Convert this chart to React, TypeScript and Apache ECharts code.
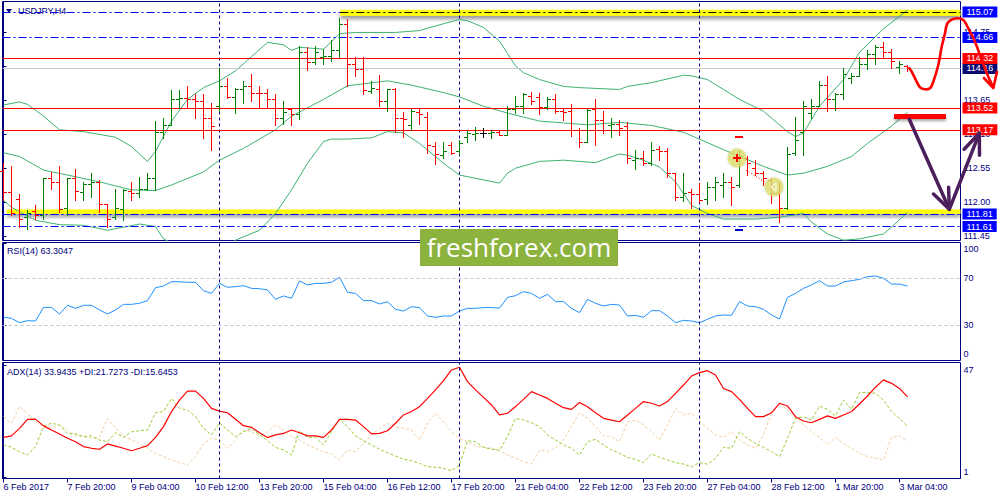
import { useEffect, useRef } from 'react';
import * as echarts from 'echarts';

const FONT = '"Liberation Sans", Arial, sans-serif';
const NAVY = '#000080';

// ---- OHLC (H4 bars, index 0 = 6 Feb 2017 12:00) ----
const OPEN = [
  112.50, 112.16, 112.06, 111.76, 111.86, 111.79, 112.39, 112.33, 111.91, 112.39,
  112.17, 112.30, 112.33, 111.98, 111.76, 111.90, 112.19, 112.15, 112.22, 112.40,
  113.14, 113.25, 113.66, 113.69, 113.66, 113.64, 113.36, 113.55, 113.87, 113.70,
  113.83, 113.87, 113.77, 113.76, 113.67, 113.36, 113.50, 113.42, 114.43, 114.27,
  114.35, 114.36, 114.45, 114.88, 114.23, 114.15, 113.79, 113.83, 113.63, 113.83,
  113.36, 113.25, 113.45, 113.38, 112.91, 112.77, 112.93, 112.82, 113.06, 113.11,
  113.12, 113.12, 113.13, 113.09, 113.50, 113.56, 113.71, 113.70, 113.54, 113.67,
  113.48, 113.47, 113.16, 112.98, 113.50, 113.32, 113.25, 113.27, 113.23, 112.69,
  112.71, 112.63, 112.86, 112.82, 112.47, 112.08, 112.17, 112.14, 112.05, 112.25,
  112.28, 112.33, 112.28, 112.71, 112.55, 112.47, 112.36, 112.15, 111.91, 112.79,
  113.14, 113.44, 113.56, 113.90, 113.66, 113.74, 114.01, 114.04, 114.23, 114.39,
  114.50, 114.42, 114.18, 114.20,
];
const HIGH = [
  112.63, 112.58, 112.14, 111.87, 111.95, 112.40, 112.49, 112.58, 112.39, 112.53,
  112.33, 112.48, 112.36, 111.98, 112.22, 112.22, 112.32, 112.41, 112.47, 113.31,
  113.36, 113.81, 113.81, 113.87, 113.74, 113.74, 113.61, 114.17, 114.00, 113.85,
  113.96, 114.07, 113.87, 113.82, 113.75, 113.63, 113.52, 114.52, 114.50, 114.52,
  114.47, 114.62, 114.97, 114.95, 114.35, 114.34, 113.96, 114.05, 113.83, 113.85,
  113.45, 113.50, 113.50, 113.45, 112.98, 112.97, 112.97, 113.01, 113.17, 113.22,
  113.20, 113.17, 113.17, 113.56, 113.71, 113.76, 113.78, 113.77, 113.70, 113.74,
  113.52, 113.59, 113.20, 113.50, 113.67, 113.47, 113.36, 113.33, 113.29, 112.85,
  112.82, 112.97, 112.91, 112.87, 112.48, 112.47, 112.21, 112.31, 112.33, 112.41,
  112.48, 112.41, 112.84, 112.74, 112.69, 112.51, 112.39, 112.33, 112.90, 113.38,
  113.63, 113.67, 113.96, 114.04, 113.76, 114.16, 114.08, 114.34, 114.45, 114.53,
  114.59, 114.48, 114.28, 114.21,
];
const LOW = [
  112.03, 111.79, 111.60, 111.57, 111.73, 111.73, 112.22, 111.84, 111.79, 112.03,
  112.03, 112.09, 111.84, 111.60, 111.73, 111.71, 112.03, 112.09, 112.20, 112.20,
  113.04, 113.25, 113.52, 113.52, 113.36, 113.04, 112.85, 113.47, 113.69, 113.44,
  113.61, 113.63, 113.54, 113.52, 113.25, 113.27, 113.24, 113.35, 114.14, 114.23,
  114.23, 114.28, 114.35, 113.87, 114.04, 113.74, 113.77, 113.55, 113.47, 113.13,
  113.06, 113.17, 113.27, 112.80, 112.62, 112.71, 112.78, 112.78, 112.98, 113.01,
  113.06, 113.04, 113.09, 113.09, 113.44, 113.44, 113.59, 113.42, 113.50, 113.44,
  113.32, 113.07, 112.90, 112.97, 112.93, 113.12, 113.06, 113.09, 112.64, 112.53,
  112.60, 112.60, 112.69, 112.41, 112.04, 112.02, 111.91, 112.01, 111.97, 112.04,
  112.09, 111.95, 112.25, 112.44, 112.44, 112.28, 111.99, 111.68, 111.90, 112.76,
  112.76, 113.36, 113.55, 113.47, 113.49, 113.67, 113.93, 114.03, 114.15, 114.23,
  114.34, 114.16, 114.08, 114.12,
];
const CLOSE = [
  112.16, 111.82, 111.73, 111.82, 111.79, 112.39, 112.33, 111.90, 112.39, 112.19,
  112.30, 112.33, 111.98, 111.73, 111.91, 112.20, 112.15, 112.22, 112.40, 113.14,
  113.25, 113.66, 113.69, 113.66, 113.64, 113.36, 113.23, 113.87, 113.70, 113.83,
  113.87, 113.77, 113.76, 113.67, 113.36, 113.45, 113.42, 114.43, 114.27, 114.43,
  114.36, 114.45, 114.88, 114.23, 114.15, 113.81, 113.85, 113.63, 113.82, 113.36,
  113.35, 113.47, 113.42, 112.93, 112.78, 112.82, 112.79, 112.96, 113.12, 113.12,
  113.12, 113.14, 113.09, 113.50, 113.56, 113.74, 113.63, 113.54, 113.67, 113.47,
  113.46, 113.16, 112.98, 113.49, 113.32, 113.16, 113.27, 113.20, 112.71, 112.71,
  112.63, 112.85, 112.83, 112.48, 112.08, 112.15, 112.13, 112.03, 112.25, 112.33,
  112.33, 112.25, 112.74, 112.63, 112.47, 112.39, 112.15, 111.91, 112.78, 113.01,
  113.56, 113.55, 113.90, 113.66, 113.74, 114.07, 114.03, 114.23, 114.39, 114.50,
  114.42, 114.28, 114.23, 114.16,
];

// ---- Bollinger Bands (bar index, price) ----
const BB_UPPER = [
  [0, 113.57], [2, 113.62], [3, 113.58], [5, 113.39], [7, 113.17], [10, 113.14], [14, 113.05],
  [16, 112.90], [18, 112.66], [19, 112.82], [21, 113.31], [23, 113.66], [25, 113.85], [27, 113.96],
  [29, 114.12], [31, 114.35], [33, 114.58], [35, 114.54], [36, 114.45], [37, 114.50], [40, 114.47],
  [41, 114.59], [42, 114.72], [44, 114.74], [49, 114.74], [52, 114.77], [55, 114.88], [57, 114.95],
  [58, 114.93], [60, 114.82], [62, 114.60], [63, 114.40], [64, 114.20], [65, 114.09], [67, 113.98],
  [70, 113.87], [72, 113.85], [77, 113.82], [78, 113.87], [81, 113.93], [82, 113.96], [85, 114.05],
  [86, 114.04], [88, 113.98], [90, 113.82], [92, 113.66], [95, 113.47], [98, 113.14], [99, 113.06],
  [100, 113.12], [102, 113.55], [105, 113.98], [107, 114.42], [110, 114.80], [113, 115.10],
];
const BB_MIDDLE = [
  [0, 112.80], [2, 112.74], [5, 112.52], [8, 112.44], [12, 112.33], [16, 112.20], [19, 112.19],
  [21, 112.28], [25, 112.49], [27, 112.68], [30, 112.87], [34, 113.17], [36, 113.39], [40, 113.66],
  [43, 113.88], [48, 113.96], [51, 113.89], [55, 113.77], [57, 113.70], [60, 113.55], [63, 113.44],
  [67, 113.31], [70, 113.28], [73, 113.25], [77, 113.29], [81, 113.24], [85, 113.13], [90, 112.85],
  [95, 112.58], [98, 112.44], [100, 112.47], [103, 112.58], [106, 112.74], [108, 112.95],
  [111, 113.23], [113, 113.45],
];
const BB_LOWER = [
  [0, 112.03], [1, 111.92], [4, 111.71], [7, 111.64], [10, 111.63], [13, 111.55], [15, 111.60],
  [17, 111.65], [19, 111.61], [20, 111.41], [23, 111.22], [26, 111.16], [29, 111.39], [32, 111.55],
  [34, 111.82], [36, 112.20], [38, 112.63], [40, 112.98], [41, 113.02], [43, 113.02], [46, 113.04],
  [48, 113.14], [50, 113.12], [52, 112.95], [55, 112.63], [57, 112.44], [62, 112.31], [63, 112.47],
  [64, 112.55], [67, 112.66], [70, 112.68], [74, 112.64], [77, 112.78], [78, 112.76], [80, 112.68],
  [82, 112.57], [84, 112.33], [86, 111.95], [88, 111.82], [90, 111.73], [94, 111.73], [97, 111.76],
  [100, 111.82], [101, 111.68], [103, 111.49], [105, 111.39], [107, 111.41], [110, 111.49],
  [111, 111.60], [113, 111.84],
];

// ---- RSI(14) ----
const RSI = [
  36.6, 35.7, 32.0, 33.7, 33.4, 45.1, 45.1, 39.4, 46.9, 44.3,
  46.9, 46.9, 42.9, 39.4, 42.9, 47.7, 47.7, 48.6, 50.9, 62.0,
  63.4, 67.1, 67.1, 66.6, 66.6, 59.4, 57.1, 65.7, 62.3, 62.9,
  63.7, 61.4, 61.1, 60.0, 52.0, 54.9, 52.9, 67.7, 64.3, 65.7,
  65.7, 66.6, 70.9, 58.0, 57.1, 50.9, 50.9, 48.0, 50.0, 43.4,
  42.0, 45.7, 44.9, 37.7, 36.6, 37.7, 37.7, 42.0, 44.3, 44.3,
  44.9, 44.9, 44.5, 53.7, 55.1, 58.6, 57.1, 52.9, 56.3, 50.0,
  50.0, 44.3, 40.6, 52.0, 48.6, 46.3, 47.7, 47.1, 37.7, 38.3,
  36.6, 42.3, 42.3, 37.7, 32.0, 34.0, 33.4, 32.0, 34.9, 37.7,
  38.6, 38.3, 50.0, 46.3, 45.7, 43.4, 38.6, 35.1, 53.7, 57.1,
  61.4, 64.3, 68.0, 63.4, 63.4, 66.9, 68.0, 69.1, 71.4, 72.0,
  70.0, 65.1, 65.1, 63.3,
];

// ---- ADX(14) ----
const ADX = [
  17.3, 17.9, 21.0, 24.7, 24.8, 22.0, 20.3, 18.7, 16.9, 15.5,
  13.5, 12.8, 12.4, 14.6, 13.7, 12.8, 11.8, 12.8, 13.9, 17.3,
  21.7, 27.9, 32.6, 36.3, 36.3, 33.3, 29.2, 28.1, 27.4, 24.7,
  22.1, 21.4, 19.2, 17.2, 18.3, 18.9, 20.3, 19.2, 17.9, 17.9,
  17.3, 20.3, 24.7, 24.7, 24.4, 21.7, 18.7, 18.9, 20.0, 23.1,
  26.5, 27.9, 29.9, 33.3, 36.8, 40.6, 45.0, 46.1, 40.2, 36.8,
  33.7, 30.6, 26.5, 27.2, 29.9, 32.9, 36.1, 34.7, 33.3, 31.3,
  29.5, 28.8, 31.6, 29.9, 27.4, 25.1, 24.4, 23.7, 26.5, 29.2,
  32.0, 31.3, 30.2, 32.0, 35.4, 38.8, 42.5, 43.9, 44.7, 42.9,
  37.4, 36.1, 32.9, 29.2, 25.8, 25.8, 27.4, 31.3, 30.2, 25.8,
  24.0, 23.3, 24.7, 26.1, 25.1, 26.5, 27.9, 31.0, 34.3, 37.9,
  40.9, 39.5, 37.4, 33.9,
];
const PLUS_DI = [
  14.2, 13.2, 11.4, 10.0, 13.5, 21.7, 23.1, 22.4, 18.9, 18.7,
  17.6, 17.9, 16.2, 15.5, 19.2, 17.3, 19.6, 20.0, 20.3, 27.4,
  27.9, 33.3, 29.2, 28.5, 25.8, 21.0, 18.3, 23.3, 20.3, 17.6,
  19.6, 21.0, 18.3, 15.9, 13.2, 12.1, 10.0, 20.0, 17.3, 17.3,
  14.2, 19.6, 24.7, 21.7, 17.9, 15.9, 14.2, 12.4, 11.0, 9.6,
  8.3, 7.7, 6.6, 5.2, 5.0, 4.6, 3.6, 5.9, 15.9, 15.5,
  13.2, 12.4, 12.0, 17.6, 25.1, 24.4, 23.3, 21.7, 18.3, 16.2,
  14.2, 12.8, 10.0, 15.5, 16.5, 14.2, 12.1, 10.7, 9.1, 8.3,
  6.9, 10.5, 9.1, 8.0, 6.9, 6.3, 5.2, 6.9, 6.3, 8.7,
  13.2, 12.8, 19.6, 16.9, 14.8, 13.2, 11.4, 9.4, 16.9, 25.1,
  25.8, 24.4, 30.2, 28.8, 26.1, 32.6, 28.8, 35.7, 35.7, 35.4,
  32.6, 27.9, 25.1, 21.7,
];
const MINUS_DI = [
  25.8, 23.1, 29.9, 27.2, 23.7, 21.7, 21.0, 22.4, 20.3, 17.9,
  17.6, 16.9, 17.3, 25.1, 21.0, 17.9, 16.2, 14.8, 12.8, 10.7,
  9.4, 8.0, 6.9, 5.9, 9.4, 14.8, 16.9, 16.2, 12.8, 16.2,
  20.3, 19.6, 17.9, 19.6, 22.4, 20.3, 17.6, 16.2, 14.2, 12.8,
  11.4, 10.5, 8.0, 12.1, 11.4, 14.8, 18.3, 21.0, 23.1, 21.7,
  21.0, 20.3, 16.2, 23.1, 27.2, 23.7, 19.6, 16.9, 15.5, 13.7,
  13.2, 12.8, 11.8, 10.0, 8.7, 7.3, 6.3, 12.1, 11.4, 12.8,
  16.2, 21.7, 27.4, 25.1, 21.7, 17.9, 17.6, 15.5, 23.7, 24.4,
  22.4, 19.6, 16.2, 22.4, 29.2, 26.5, 27.2, 23.7, 21.0, 18.3,
  17.3, 19.6, 16.2, 14.2, 12.8, 18.3, 27.2, 31.3, 28.5, 25.1,
  22.4, 19.6, 17.3, 14.2, 17.3, 14.8, 12.8, 10.7, 9.4, 8.7,
  8.0, 17.3, 17.9, 15.6,
];

// ---- axis ticks / labels ----
const DATE_TICKS = [0, 8, 16, 24, 32, 40, 48, 56, 64, 72, 80, 88, 96, 104, 112];
const DATE_LABELS = [
  '6 Feb 2017', '7 Feb 20:00', '9 Feb 04:00', '10 Feb 12:00', '13 Feb 20:00', '15 Feb 04:00',
  '16 Feb 12:00', '17 Feb 20:00', '21 Feb 04:00', '22 Feb 12:00', '23 Feb 20:00', '27 Feb 04:00',
  '28 Feb 12:00', '1 Mar 20:00', '3 Mar 04:00',
];
const PRICE_TICKS = [111.45, 112.0, 112.55, 113.1, 113.65, 114.2, 114.75];
const RSI_TICKS = [0, 30, 70, 100];
const RSI_LEVELS = [70, 30];
const ADX_TICKS = [1, 47];
const WEEK_SEPARATORS = [27, 57, 87];

// ---- horizontal levels ----
const TOP_LEVEL = 115.07;
const BLUE_LEVELS = [114.66, 111.81, 111.61];
const RED_LEVELS = [114.32, 113.52, 113.17];
const BID = 114.16;
const TOP_BAND = [115.105, 115.01];
const BOTTOM_BAND = [111.885, 111.815];
const TOP_BAND_START = 42.1;
const BOTTOM_BAND_START = 0.4;

const X_MIN = -0.125;
const X_MAX = 119.625;
const PRICE_MIN = 111.3845;
const PRICE_MAX = 115.239;

const DASHDOT = [8, 3, 2, 3];

function boxLabel(text: string, bg: string) {
  return {
    show: true,
    position: 'end',
    formatter: text,
    color: '#fff',
    backgroundColor: bg,
    padding: [1, 4, 0, 4],
    fontSize: 9,
    lineHeight: 10,
    fontFamily: FONT,
    distance: 2,
  };
}

function renderBar(params: any, api: any) {
  const i = api.value(0);
  const o = api.value(1);
  const h = api.value(2);
  const l = api.value(3);
  const c = api.value(4);
  const pO = api.coord([i, o]);
  const pH = api.coord([i, h]);
  const pL = api.coord([i, l]);
  const pC = api.coord([i, c]);
  const x = Math.floor(pO[0]) + 0.5;
  const color = c > o ? '#008000' : c < o ? '#ff0000' : '#000000';
  const yO = Math.round(pO[1]) + 0.5;
  const yC = Math.round(pC[1]) + 0.5;
  const st = { stroke: color, lineWidth: 1 };
  return {
    type: 'group',
    children: [
      { type: 'line', shape: { x1: x, y1: Math.round(pH[1]), x2: x, y2: Math.round(pL[1]) + 1 }, style: st },
      { type: 'line', shape: { x1: x - 3.5, y1: yO, x2: x, y2: yO }, style: st },
      { type: 'line', shape: { x1: x, y1: yC, x2: x + 3.5, y2: yC }, style: st },
    ],
  };
}

function sepLines() {
  return WEEK_SEPARATORS.map((v) => ({
    xAxis: v,
    lineStyle: { color: NAVY, type: [3, 3], width: 1 },
    label: { show: false },
  }));
}

function carrier(name: string, z: number, extra: any) {
  return { name, type: 'line', xAxisIndex: 0, yAxisIndex: 0, data: [], z, silent: true, ...extra };
}

function buildOption(): any {
  const ohlc = OPEN.map((o, i) => [i, o, HIGH[i], LOW[i], CLOSE[i]]);
  const idx = (arr: number[]) => arr.map((v, i) => [i, v]);

  const blueData: any[] = [
    [
      { coord: [X_MIN, TOP_LEVEL], lineStyle: { color: '#0000ff', type: DASHDOT, width: 1 }, label: { show: false } },
      { coord: [TOP_BAND_START, TOP_LEVEL] },
    ],
    [
      { coord: [TOP_BAND_START, TOP_LEVEL], lineStyle: { color: '#000000', type: DASHDOT, width: 1 }, label: boxLabel(TOP_LEVEL.toFixed(2), '#0000ff') },
      { coord: [X_MAX, TOP_LEVEL] },
    ],
    ...BLUE_LEVELS.map((v) => ({
      yAxis: v,
      lineStyle: { color: '#0000ff', type: DASHDOT, width: 1 },
      label: boxLabel(v.toFixed(2), '#0000ff'),
    })),
  ];
  const redData: any[] = RED_LEVELS.map((v) => ({
    yAxis: v,
    lineStyle: { color: '#ff0000', type: 'solid', width: 1 },
    label: boxLabel(v.toFixed(2), '#ff0000'),
  }));
  const bidData: any[] = [
    {
      yAxis: BID,
      lineStyle: { color: '#c8c8c8', type: 'solid', width: 1 },
      label: boxLabel(BID.toFixed(2), '#0a0a70'),
    },
    ...sepLines(),
  ];

  const bandStyle = {
    color: '#ffff00',
    shadowBlur: 4,
    shadowColor: 'rgba(0,0,0,0.45)',
    shadowOffsetY: 3,
  };

  const axisText = { color: NAVY, fontSize: 9, fontFamily: FONT };

  const purple = { stroke: '#4b1f5c', lineWidth: 3.5, lineCap: 'round', lineJoin: 'round', fill: 'none' };
  const redPen = { stroke: '#ff0000', lineWidth: 2.6, lineCap: 'round', lineJoin: 'round', fill: 'none' };
  const ml = (data: any[]) => ({ silent: true, symbol: ['none', 'none'], precision: 2, data });

  return {
    animation: false,
    backgroundColor: '#ffffff',
    textStyle: { fontFamily: FONT },
    grid: [
      { left: 2.5, top: 1.5, width: 958, height: 239, show: true, borderColor: NAVY, borderWidth: 1, backgroundColor: '#fff' },
      { left: 2.5, top: 242.5, width: 958, height: 118, show: true, borderColor: NAVY, borderWidth: 1, backgroundColor: '#fff' },
      { left: 2.5, top: 362.5, width: 958, height: 116, show: true, borderColor: NAVY, borderWidth: 1, backgroundColor: '#fff' },
    ],
    xAxis: [0, 1, 2].map((g) => ({
      type: 'value',
      gridIndex: g,
      min: X_MIN,
      max: X_MAX,
      show: g === 2,
      splitLine: { show: false },
      axisLine: { show: g === 2, lineStyle: { color: NAVY, width: 1 } },
      axisTick: { show: g === 2, length: 4, customValues: DATE_TICKS, lineStyle: { color: NAVY } },
      axisLabel: {
        show: g === 2,
        customValues: DATE_TICKS,
        formatter: (v: number) => DATE_LABELS[DATE_TICKS.indexOf(Math.round(v))] ?? '',
        align: 'left',
        margin: 4,
        ...axisText,
      },
    })),
    yAxis: [
      {
        type: 'value',
        gridIndex: 0,
        position: 'right',
        min: PRICE_MIN,
        max: PRICE_MAX,
        splitLine: { show: false },
        axisLine: { show: true, lineStyle: { color: NAVY } },
        axisTick: { show: true, length: 3, customValues: PRICE_TICKS, lineStyle: { color: NAVY } },
        axisLabel: { customValues: PRICE_TICKS, formatter: (v: number) => v.toFixed(2), margin: 3, ...axisText },
      },
      {
        type: 'value',
        gridIndex: 1,
        position: 'right',
        min: -0.43,
        max: 100.71,
        splitLine: { show: false },
        axisLine: { show: true, lineStyle: { color: NAVY } },
        axisTick: { show: true, length: 3, customValues: RSI_TICKS, lineStyle: { color: NAVY } },
        axisLabel: {
          customValues: RSI_TICKS,
          formatter: (v: number) => (v >= 100 ? '\n100' : v <= 0 ? '0\n' : String(v)),
          lineHeight: 12,
          margin: 3,
          ...axisText,
        },
      },
      {
        type: 'value',
        gridIndex: 2,
        position: 'right',
        min: 0.38,
        max: 48.06,
        splitLine: { show: false },
        axisLine: { show: true, lineStyle: { color: NAVY } },
        axisTick: { show: true, length: 3, customValues: ADX_TICKS, lineStyle: { color: NAVY } },
        axisLabel: {
          customValues: ADX_TICKS,
          formatter: (v: number) => (v >= 47 ? '\n47' : '1\n'),
          lineHeight: 10,
          margin: 3,
          ...axisText,
        },
      },
    ],
    series: [
      carrier('bands', 1, {
        markArea: {
          silent: true,
          data: [
            [
              { xAxis: TOP_BAND_START, yAxis: TOP_BAND[0], itemStyle: bandStyle },
              { xAxis: X_MAX, yAxis: TOP_BAND[1] },
            ],
            [
              { xAxis: BOTTOM_BAND_START, yAxis: BOTTOM_BAND[0], itemStyle: bandStyle },
              { xAxis: X_MAX, yAxis: BOTTOM_BAND[1] },
            ],
          ],
        },
      }),
      carrier('blueLevels', 2, { markLine: ml(blueData) }),
      carrier('bid', 2, { markLine: ml(bidData) }),
      carrier('redLevels', 2, { markLine: ml(redData) }),
      ...[BB_UPPER, BB_MIDDLE, BB_LOWER].map((d) => ({
        type: 'line',
        xAxisIndex: 0,
        yAxisIndex: 0,
        data: d,
        showSymbol: false,
        symbol: 'none',
        silent: true,
        z: 3,
        lineStyle: { color: '#3cb371', width: 1 },
      })),
      {
        name: 'USDJPY',
        type: 'custom',
        xAxisIndex: 0,
        yAxisIndex: 0,
        data: ohlc,
        encode: { x: 0, y: [1, 2, 3, 4] },
        renderItem: renderBar,
        silent: true,
        z: 5,
      },
      {
        name: 'RSI',
        type: 'line',
        xAxisIndex: 1,
        yAxisIndex: 1,
        data: idx(RSI),
        showSymbol: false,
        symbol: 'none',
        silent: true,
        z: 3,
        lineStyle: { color: '#1e90ff', width: 1 },
        markLine: {
          silent: true,
          symbol: ['none', 'none'],
          data: [
            ...RSI_LEVELS.map((v) => ({ yAxis: v, lineStyle: { color: '#c0c0c0', type: [3, 3], width: 1 }, label: { show: false } })),
            ...sepLines(),
          ],
        },
      },
      {
        name: '-DI',
        type: 'line',
        xAxisIndex: 2,
        yAxisIndex: 2,
        data: idx(MINUS_DI),
        showSymbol: false,
        symbol: 'none',
        silent: true,
        z: 3,
        lineStyle: { color: '#f2cfa2', width: 1, type: [3, 2] },
        markLine: { silent: true, symbol: ['none', 'none'], data: sepLines() },
      },
      {
        name: '+DI',
        type: 'line',
        xAxisIndex: 2,
        yAxisIndex: 2,
        data: idx(PLUS_DI),
        showSymbol: false,
        symbol: 'none',
        silent: true,
        z: 3,
        lineStyle: { color: '#9acd32', width: 1, type: [3, 2] },
      },
      {
        name: 'ADX',
        type: 'line',
        xAxisIndex: 2,
        yAxisIndex: 2,
        data: idx(ADX),
        showSymbol: false,
        symbol: 'none',
        silent: true,
        z: 4,
        lineStyle: { color: '#ff0000', width: 1.2 },
      },
    ],
    graphic: [
      { type: 'polygon', z: 100, shape: { points: [[6, 9], [12, 9], [9, 13]] }, style: { fill: NAVY } },
      { type: 'text', z: 100, x: 18, y: 11, style: { text: 'USDJPY,H4', fill: NAVY, fontSize: 9, fontFamily: FONT, verticalAlign: 'middle' } },
      { type: 'text', z: 100, x: 7, y: 251, style: { text: 'RSI(14) 63.3047', fill: NAVY, fontSize: 9, fontFamily: FONT, verticalAlign: 'middle' } },
      { type: 'text', z: 100, x: 7, y: 372, style: { text: 'ADX(14) 33.9435 +DI:21.7273 -DI:15.6453', fill: NAVY, fontSize: 9, fontFamily: FONT, verticalAlign: 'middle' } },
      // watermark
      { type: 'rect', z: 100, shape: { x: 420, y: 229, width: 198, height: 37 }, style: { fill: '#8db33f' } },
      { type: 'text', z: 101, x: 519, y: 247, style: { text: 'freshforex.com', fill: '#ffffff', fontSize: 26, fontFamily: '"Open Sans", "Noto Sans", sans-serif', align: 'center', verticalAlign: 'middle' } },
      // trade markers
      { type: 'circle', z: 90, shape: { cx: 737, cy: 158, r: 9.5 }, style: { fill: 'rgba(222,222,110,0.8)', shadowBlur: 2, shadowColor: 'rgba(0,0,0,0.2)' } },
      { type: 'circle', z: 90, shape: { cx: 774, cy: 187, r: 9.5 }, style: { fill: 'rgba(222,222,110,0.8)', shadowBlur: 2, shadowColor: 'rgba(0,0,0,0.2)' } },
      { type: 'line', z: 91, shape: { x1: 733, y1: 158, x2: 741, y2: 158 }, style: { stroke: '#ff0000', lineWidth: 2 } },
      { type: 'line', z: 91, shape: { x1: 737, y1: 154, x2: 737, y2: 162 }, style: { stroke: '#ff0000', lineWidth: 2 } },
      { type: 'polygon', z: 91, shape: { points: [[771, 187], [776, 183], [776, 191]] }, style: { fill: 'none', stroke: '#ffffff', lineWidth: 1 } },
      { type: 'line', z: 91, shape: { x1: 746, y1: 170, x2: 766, y2: 183 }, style: { stroke: '#ff0000', lineWidth: 1, lineDash: [1, 2] } },
      { type: 'line', z: 91, shape: { x1: 735, y1: 137, x2: 743, y2: 137 }, style: { stroke: '#ff0000', lineWidth: 2 } },
      { type: 'line', z: 91, shape: { x1: 735, y1: 230, x2: 743, y2: 230 }, style: { stroke: '#0000cc', lineWidth: 2 } },
      // forecast drawings
      {
        type: 'polyline', z: 110,
        shape: {
          smooth: 0.3,
          points: [[909.3, 68.3], [911.7, 71.7], [915, 78.3], [920, 87.3], [925, 89.3], [930, 88.3], [933.3, 81.7],
            [938.3, 65], [941.7, 46.7], [945, 33.3], [946.7, 25], [950, 20.7], [956.7, 18.3], [963.3, 20],
            [968.3, 28.3], [975, 41.7], [981.7, 60], [988.3, 76.7], [993.3, 87.3]],
        },
        style: redPen,
      },
      { type: 'polyline', z: 110, shape: { points: [[984, 78], [993.3, 88], [997, 72]] }, style: redPen },
      { type: 'rect', z: 110, shape: { x: 894, y: 114, width: 52, height: 5 }, style: { fill: '#ff0000', shadowBlur: 3, shadowColor: 'rgba(0,0,0,0.35)', shadowOffsetY: 2 } },
      { type: 'line', z: 111, shape: { x1: 909.3, y1: 119.3, x2: 949.3, y2: 209.3 }, style: purple },
      { type: 'polyline', z: 111, shape: { points: [[933.5, 194], [949.3, 209.3], [948.6, 187.3]] }, style: purple },
      { type: 'line', z: 111, shape: { x1: 949.3, y1: 209.3, x2: 979.3, y2: 133.3 }, style: purple },
      { type: 'polyline', z: 111, shape: { points: [[964.1, 149.2], [979.3, 133.3], [979.5, 155.3]] }, style: purple },
    ],
  };
}

export default function App() {
  const ref = useRef<HTMLDivElement>(null);
  useEffect(() => {
    const chart = echarts.init(ref.current as HTMLDivElement, null, { renderer: 'svg' });
    chart.setOption(buildOption());
    return () => chart.dispose();
  }, []);
  return (
    <div
      ref={ref}
      style={{ position: 'fixed', left: 0, top: 0, width: 1000, height: 500, background: '#ffffff' }}
    />
  );
}
